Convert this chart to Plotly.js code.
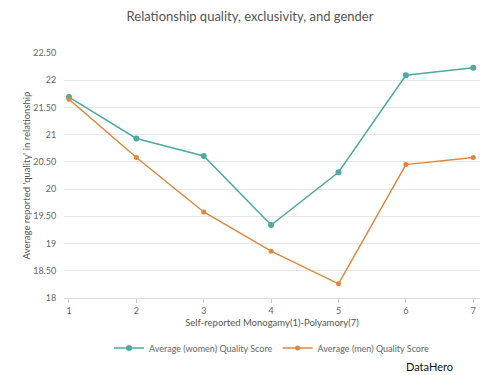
<!DOCTYPE html>
<html>
<head>
<meta charset="utf-8">
<script src="https://cdn.plot.ly/plotly-3.0.1.min.js"></script>
<style>html,body{margin:0;padding:0;background:#fff}#chart{width:500px;height:375px}</style>
</head>
<body>
<div id="chart"></div>
<script>
const categories = [1, 2, 3, 4, 5, 6, 7];
const womenScores = [21.69, 20.93, 20.61, 19.34, 20.31, 22.09, 22.23];
const menScores = [21.65, 20.58, 19.58, 18.86, 18.26, 20.45, 20.58];
const yTickVals = [18, 18.5, 19, 19.5, 20, 20.5, 21, 21.5, 22, 22.5];
const yTickText = ["18", "18.50", "19", "19.50", "20", "20.50", "21", "21.50", "22", "22.50"];
const seriesNames = ["Average (women) Quality Score", "Average (men) Quality Score"];

const fontFam = "Lato, Open Sans, sans-serif";
const data = [
  {x: categories, y: womenScores, name: seriesNames[0], type: 'scatter', mode: 'lines+markers',
   line: {color: '#4fa9a3', width: 1.5}, marker: {color: '#4fa9a3', size: 6}},
  {x: categories, y: menScores, name: seriesNames[1], type: 'scatter', mode: 'lines+markers',
   line: {color: '#e0873d', width: 1.5}, marker: {color: '#e0873d', size: 5}}
];
const layout = {
  width: 500, height: 375,
  margin: {l: 64, r: 20, t: 53, b: 77},
  paper_bgcolor: '#fff', plot_bgcolor: '#fff',
  font: {family: fontFam, color: '#666', size: 9},
  title: {text: 'Relationship quality, exclusivity, and gender', x: 0.5, xanchor: 'center', y: 0.955, yanchor: 'middle',
          font: {family: fontFam, size: 13, color: '#555'}},
  xaxis: {range: [0.926, 7.1], tickvals: categories, ticktext: categories.map(String),
          showgrid: false, zeroline: false, showline: true, linecolor: '#ddd', linewidth: 1,
          ticks: 'outside', ticklen: 4, tickcolor: '#ccc', tickfont: {size: 9, color: '#666'},
          title: {text: 'Self-reported Monogamy(1)-Polyamory(7)', standoff: 4, font: {size: 9.5, color: '#555'}}},
  yaxis: {range: [18, 22.5], tickvals: yTickVals, ticktext: yTickText,
          showgrid: true, gridcolor: '#e6e6e6', zeroline: false, showline: false,
          ticks: 'outside', ticklen: 5, tickcolor: 'rgba(0,0,0,0)', tickfont: {size: 9, color: '#666'},
          title: {text: "Average reported 'quality' in relationship", standoff: 0, font: {size: 9.5, color: '#555'}}},
  legend: {orientation: 'h', x: 0.5, xanchor: 'center', yref: 'container', y: 0.072, yanchor: 'middle',
           font: {size: 9, color: '#666'}, itemwidth: 30},
  showlegend: true,
  annotations: [{text: 'DataHero', xref: 'paper', yref: 'paper', x: 0.94, y: -0.278, xanchor: 'right', yanchor: 'middle',
                 showarrow: false, font: {family: fontFam, size: 11, color: '#111'}}]
};
Plotly.newPlot('chart', data, layout, {displayModeBar: false, staticPlot: true});
</script>
</body>
</html>
